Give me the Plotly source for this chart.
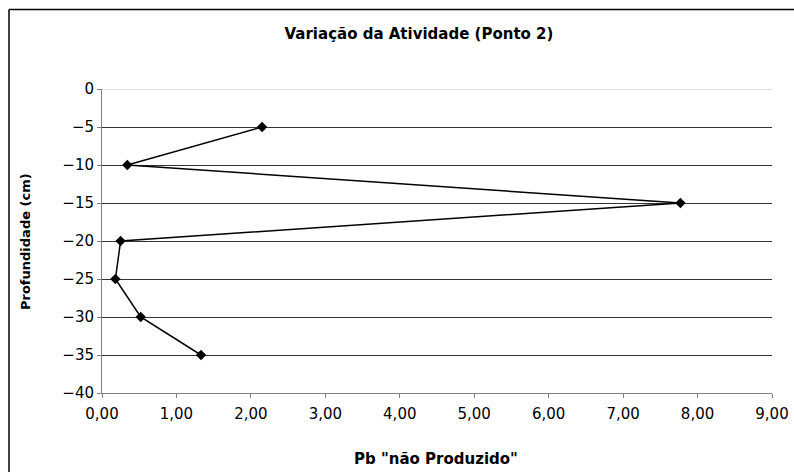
import plotly.graph_objects as go

# Data
depth_cm = [-5, -10, -15, -20, -25, -30, -35]
pb_nao_produzido = [2.15, 0.34, 7.77, 0.25, 0.18, 0.52, 1.33]

title = "Variação da Atividade (Ponto 2)"
x_title = 'Pb "não Produzido"'
y_title = "Profundidade (cm)"

W, H = 794, 472
L, R, T, B = 102, 22, 89, 79
plot_w = W - L - R
plot_h = H - T - B


def px(x):
    # pixel column -> paper x
    return (x - L) / plot_w


def py(y):
    # pixel row -> paper y
    return (H - B - y) / plot_h


font = "DejaVu Sans, Arial, sans-serif"

trace = go.Scatter(
    x=pb_nao_produzido,
    y=depth_cm,
    mode="lines+markers",
    line=dict(color="black", width=1.5),
    marker=dict(symbol="diamond", size=8, color="black"),
    showlegend=False,
    cliponaxis=False,
)

fig = go.Figure(trace)

fig.update_layout(
    width=W,
    height=H,
    margin=dict(l=L, r=R, t=T, b=B),
    paper_bgcolor="white",
    plot_bgcolor="white",
    separators=",.",
    font=dict(family=font, size=15, color="black"),
    title=dict(
        text=title,
        x=419 / W,
        xanchor="center",
        y=1 - 34 / H,
        yanchor="middle",
        font=dict(family=font, size=15, weight="bold"),
    ),
)

# Excel-style axes: grey axis lines, outside ticks, dark horizontal gridlines
fig.update_xaxes(
    range=[0, 9],
    dtick=1,
    tickformat=".2f",
    showgrid=False,
    zeroline=False,
    showline=True,
    linecolor="#808080",
    ticks="outside",
    ticklen=4,
    tickcolor="#808080",
    ticklabelstandoff=3,
    automargin=False,
)
fig.update_yaxes(
    range=[-40, 0],
    dtick=5,
    showgrid=True,
    gridcolor="#333333",
    gridwidth=1,
    zeroline=True,
    zerolinecolor="#e0e0e0",
    zerolinewidth=1,
    showline=True,
    linecolor="#808080",
    ticks="outside",
    ticklen=4,
    tickcolor="#808080",
    automargin=False,
)

# axis titles placed as annotations to match the reference positions
fig.add_annotation(
    text=y_title, textangle=-90, showarrow=False,
    xref="paper", yref="paper", x=px(25), y=py(242),
    xanchor="center", yanchor="middle",
    font=dict(family=font, size=13, weight="bold"),
)
fig.add_annotation(
    text=x_title, showarrow=False,
    xref="paper", yref="paper", x=px(436), y=py(459),
    xanchor="center", yanchor="middle",
    font=dict(family=font, size=15, weight="bold"),
)

# chart-area border (only the left and top edges are visible in the source)
fig.add_shape(type="line", xref="paper", yref="paper",
              x0=px(9), x1=px(9), y0=py(9.5), y1=py(H + 5),
              line=dict(color="black", width=1.5))
fig.add_shape(type="line", xref="paper", yref="paper",
              x0=px(9), x1=px(W + 5), y0=py(9.5), y1=py(9.5),
              line=dict(color="black", width=1.5))

# drop the browser's default body margin so the figure sits at the page corner
fig.write_html(
    "out.html",
    config={"displayModeBar": False},
    post_script="document.body.style.margin = '0';",
)
